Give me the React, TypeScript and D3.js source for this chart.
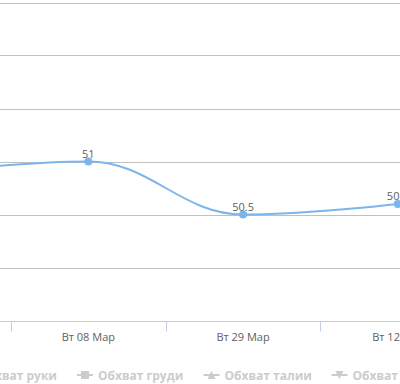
import React from "react";
import * as d3 from "d3";

const categories = ["Вт 16 Фев", "Вт 08 Мар", "Вт 29 Мар", "Вт 12 Апр"];
const values = [50.9, 51, 50.5, 50.6];
const yTicks = [50, 50.5, 51, 51.5, 52, 52.5];
const legendNames = ["Обхват руки", "Обхват груди", "Обхват талии", "Обхват бедер"];
const legendSymbols = ["circle", "square", "triangle", "triangle-down"];

const W = 400;
const H = 384;
const COLOR = "#7cb5ec";
const FONT = '"Open Sans", "Liberation Sans", Arial, sans-serif';

function splinePath(pts: [number, number][]) {
  const smoothing = 1.5;
  const denom = smoothing + 1;
  const conts: { l?: [number, number]; r?: [number, number] }[] = pts.map(() => ({}));
  for (let i = 1; i < pts.length - 1; i++) {
    const [px, py] = pts[i];
    const [lx, ly] = pts[i - 1];
    const [nx, ny] = pts[i + 1];
    const lcx = (smoothing * px + lx) / denom;
    let lcy = (smoothing * py + ly) / denom;
    const rcx = (smoothing * px + nx) / denom;
    let rcy = (smoothing * py + ny) / denom;
    if (rcx !== lcx) {
      const corr = ((rcy - lcy) * (rcx - px)) / (rcx - lcx) + py - rcy;
      lcy += corr;
      rcy += corr;
      if (lcy > ly && lcy > py) {
        lcy = Math.max(ly, py);
        rcy = 2 * py - lcy;
      } else if (lcy < ly && lcy < py) {
        lcy = Math.min(ly, py);
        rcy = 2 * py - lcy;
      }
      if (rcy > ny && rcy > py) {
        rcy = Math.max(ny, py);
        lcy = 2 * py - rcy;
      } else if (rcy < ny && rcy < py) {
        rcy = Math.min(ny, py);
        lcy = 2 * py - rcy;
      }
    }
    conts[i] = { l: [lcx, lcy], r: [rcx, rcy] };
  }
  const p = d3.path();
  p.moveTo(pts[0][0], pts[0][1]);
  for (let i = 1; i < pts.length; i++) {
    const a = conts[i - 1].r || pts[i - 1];
    const b = conts[i].l || pts[i];
    p.bezierCurveTo(a[0], a[1], b[0], b[1], pts[i][0], pts[i][1]);
  }
  return p.toString();
}

function Symbol({ kind, x, y, color }: { kind: string; x: number; y: number; color: string }) {
  if (kind === "circle") return <circle cx={x} cy={y} r={4} fill={color} />;
  if (kind === "square") return <rect x={x - 4} y={y - 4} width={8} height={8} fill={color} />;
  if (kind === "triangle")
    return <path d={`M${x},${y - 4}L${x + 4},${y + 4}L${x - 4},${y + 4}Z`} fill={color} />;
  return <path d={`M${x - 4},${y - 4}L${x + 4},${y - 4}L${x},${y + 4}Z`} fill={color} />;
}

export default function App() {
  const band = 154.7;
  const x = d3
    .scaleBand<string>()
    .domain(categories)
    .range([11 - band, 11 + band * (categories.length - 1)])
    .paddingInner(0)
    .paddingOuter(0);
  const y = d3.scaleLinear().domain([49.5, 52.5]).range([320.5, 2.5]);
  const cx = (c: string) => (x(c) as number) + x.bandwidth() / 2;
  const pts: [number, number][] = categories.map((c, i) => [cx(c), y(values[i])]);
  const tickXs = categories.map((c) => Math.round(x(c) as number) + 0.5).concat([
    Math.round((x(categories[categories.length - 1]) as number) + band) + 0.5,
  ]);
  const axisY = Math.round(y(49.5)) + 0.5;

  const legendSymX = [-56, 85, 211.5, 339.5];
  const legendY = 375;

  return (
    <svg
      width={W}
      height={H}
      style={{ position: "absolute", left: 0, top: 0, fontFamily: FONT }}
    >
      <rect width={W} height={H} fill="#fff" />
      {yTicks.map((t) => (
        <line
          key={t}
          x1={0}
          x2={W}
          y1={Math.round(y(t)) + 0.5}
          y2={Math.round(y(t)) + 0.5}
          stroke="#C0C0C0"
          strokeWidth={1}
        />
      ))}
      <line x1={0} x2={W} y1={axisY} y2={axisY} stroke="#C0D0E0" strokeWidth={1} />
      {tickXs.map((tx, i) => (
        <line key={i} x1={tx} x2={tx} y1={axisY} y2={axisY + 10} stroke="#C0D0E0" strokeWidth={1} />
      ))}
      {categories.map((c) => (
        <text key={c} x={cx(c)} y={341} textAnchor="middle" fontSize={11} fill="#606060">
          {c}
        </text>
      ))}
      <path d={splinePath(pts)} fill="none" stroke={COLOR} strokeWidth={2} />
      {pts.map((p, i) => (
        <circle key={i} cx={p[0]} cy={p[1]} r={4} fill={COLOR} />
      ))}
      {pts.map((p, i) => (
        <text key={i} x={p[0]} y={p[1] - 4} textAnchor="middle" fontSize={11} fill="#606060">
          {d3.format("")(values[i])}
        </text>
      ))}
      {legendNames.map((n, i) => (
        <g key={n}>
          <line
            x1={legendSymX[i] - 8}
            x2={legendSymX[i] + 8}
            y1={legendY}
            y2={legendY}
            stroke="#CCC"
            strokeWidth={2}
          />
          <Symbol kind={legendSymbols[i]} x={legendSymX[i]} y={legendY} color="#CCC" />
          <text
            x={i === 0 ? 57 : legendSymX[i] + 13}
            y={legendY + 4.5}
            textAnchor={i === 0 ? "end" : "start"}
            fontSize={12}
            fontWeight="bold"
            fill="#CCC"
          >
            {n}
          </text>
        </g>
      ))}
    </svg>
  );
}
